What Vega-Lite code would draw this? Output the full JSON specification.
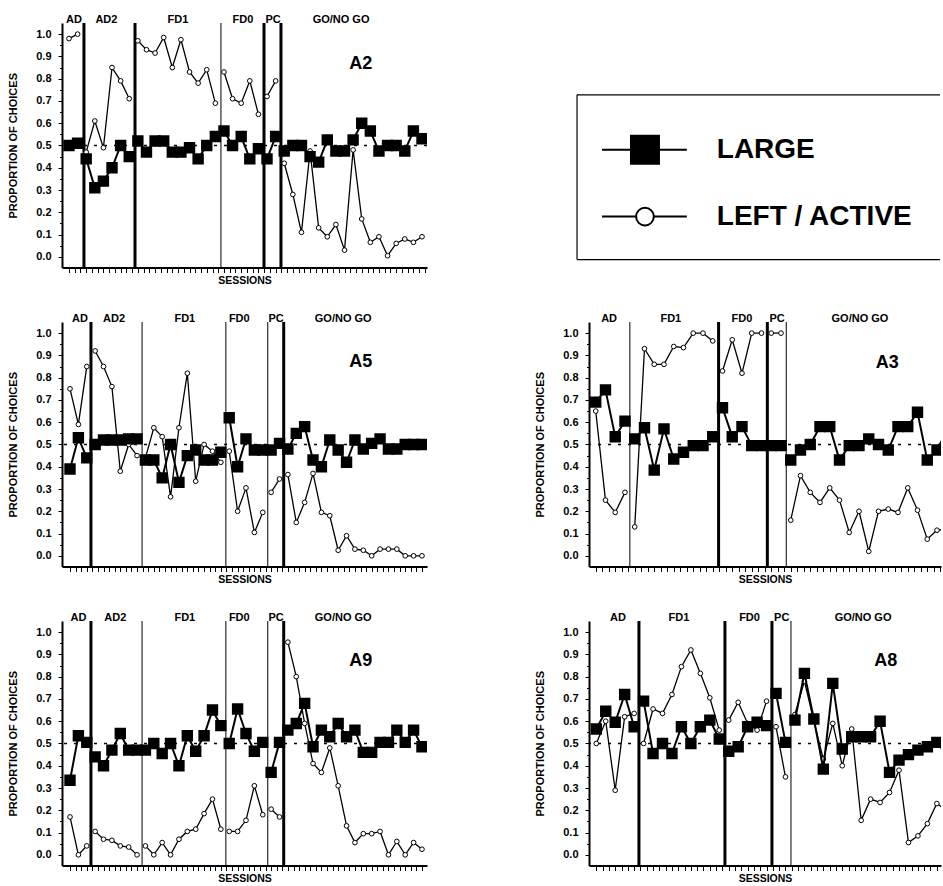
{
"$schema": "https://vega.github.io/schema/vega-lite/v6.json",
"background": "white",
"padding": {"left": 7, "top": 14, "right": 0, "bottom": 0},
"config": {
 "view": {"stroke": null},
 "axis": {"domainColor": "black", "domainWidth": 2, "tickColor": "black", "tickWidth": 1, "grid": false, "labelFont": "Liberation Sans", "labelFontWeight": "bold", "labelFontSize": 11, "labelColor": "black", "titleFont": "Liberation Sans", "titleFontWeight": "bold", "titleFontSize": 11, "titleColor": "black", "labelOverlap": false},
 "axisX": {"labels": false, "tickSize": 5, "titlePadding": 3, "titleFontSize": 10.5, "minExtent": 5, "maxExtent": 5},
 "axisY": {"labelPadding": 7, "titlePadding": 18, "minExtent": 26, "maxExtent": 26},
 "text": {"font": "Liberation Sans", "fontWeight": "bold", "color": "black"}
},
"datasets": {
 "sessions": [
  {"panel":"A2","phase":"AD","s":1,"large":0.50,"left":0.98},
  {"panel":"A2","phase":"AD","s":2,"large":0.51,"left":1.0},
  {"panel":"A2","phase":"AD2","s":3,"large":0.44,"left":0.47},
  {"panel":"A2","phase":"AD2","s":4,"large":0.31,"left":0.61},
  {"panel":"A2","phase":"AD2","s":5,"large":0.34,"left":0.49},
  {"panel":"A2","phase":"AD2","s":6,"large":0.40,"left":0.85},
  {"panel":"A2","phase":"AD2","s":7,"large":0.50,"left":0.79},
  {"panel":"A2","phase":"AD2","s":8,"large":0.45,"left":0.71},
  {"panel":"A2","phase":"FD1","s":9,"large":0.52,"left":0.97},
  {"panel":"A2","phase":"FD1","s":10,"large":0.47,"left":0.93},
  {"panel":"A2","phase":"FD1","s":11,"large":0.52,"left":0.915},
  {"panel":"A2","phase":"FD1","s":12,"large":0.52,"left":0.985},
  {"panel":"A2","phase":"FD1","s":13,"large":0.47,"left":0.85},
  {"panel":"A2","phase":"FD1","s":14,"large":0.47,"left":0.975},
  {"panel":"A2","phase":"FD1","s":15,"large":0.49,"left":0.83},
  {"panel":"A2","phase":"FD1","s":16,"large":0.44,"left":0.78},
  {"panel":"A2","phase":"FD1","s":17,"large":0.50,"left":0.84},
  {"panel":"A2","phase":"FD1","s":18,"large":0.54,"left":0.69},
  {"panel":"A2","phase":"FD0","s":19,"large":0.565,"left":0.83},
  {"panel":"A2","phase":"FD0","s":20,"large":0.50,"left":0.71},
  {"panel":"A2","phase":"FD0","s":21,"large":0.54,"left":0.69},
  {"panel":"A2","phase":"FD0","s":22,"large":0.44,"left":0.79},
  {"panel":"A2","phase":"FD0","s":23,"large":0.485,"left":0.64},
  {"panel":"A2","phase":"PC","s":24,"large":0.44,"left":0.72},
  {"panel":"A2","phase":"PC","s":25,"large":0.54,"left":0.79},
  {"panel":"A2","phase":"GO/NO GO","s":26,"large":0.475,"left":0.42},
  {"panel":"A2","phase":"GO/NO GO","s":27,"large":0.50,"left":0.28},
  {"panel":"A2","phase":"GO/NO GO","s":28,"large":0.50,"left":0.11},
  {"panel":"A2","phase":"GO/NO GO","s":29,"large":0.45,"left":0.475},
  {"panel":"A2","phase":"GO/NO GO","s":30,"large":0.425,"left":0.13},
  {"panel":"A2","phase":"GO/NO GO","s":31,"large":0.525,"left":0.09},
  {"panel":"A2","phase":"GO/NO GO","s":32,"large":0.475,"left":0.145},
  {"panel":"A2","phase":"GO/NO GO","s":33,"large":0.475,"left":0.03},
  {"panel":"A2","phase":"GO/NO GO","s":34,"large":0.525,"left":0.48},
  {"panel":"A2","phase":"GO/NO GO","s":35,"large":0.60,"left":0.17},
  {"panel":"A2","phase":"GO/NO GO","s":36,"large":0.565,"left":0.065},
  {"panel":"A2","phase":"GO/NO GO","s":37,"large":0.475,"left":0.09},
  {"panel":"A2","phase":"GO/NO GO","s":38,"large":0.50,"left":0.005},
  {"panel":"A2","phase":"GO/NO GO","s":39,"large":0.50,"left":0.06},
  {"panel":"A2","phase":"GO/NO GO","s":40,"large":0.475,"left":0.08},
  {"panel":"A2","phase":"GO/NO GO","s":41,"large":0.565,"left":0.065},
  {"panel":"A2","phase":"GO/NO GO","s":42,"large":0.53,"left":0.09},

  {"panel":"A5","phase":"AD","s":1,"large":0.39,"left":0.75},
  {"panel":"A5","phase":"AD","s":2,"large":0.53,"left":0.59},
  {"panel":"A5","phase":"AD","s":3,"large":0.44,"left":0.85},
  {"panel":"A5","phase":"AD2","s":4,"large":0.50,"left":0.92},
  {"panel":"A5","phase":"AD2","s":5,"large":0.52,"left":0.85},
  {"panel":"A5","phase":"AD2","s":6,"large":0.52,"left":0.76},
  {"panel":"A5","phase":"AD2","s":7,"large":0.52,"left":0.38},
  {"panel":"A5","phase":"AD2","s":8,"large":0.525,"left":0.50},
  {"panel":"A5","phase":"AD2","s":9,"large":0.525,"left":0.45},
  {"panel":"A5","phase":"FD1","s":10,"large":0.43,"left":0.44},
  {"panel":"A5","phase":"FD1","s":11,"large":0.43,"left":0.575},
  {"panel":"A5","phase":"FD1","s":12,"large":0.35,"left":0.535},
  {"panel":"A5","phase":"FD1","s":13,"large":0.50,"left":0.265},
  {"panel":"A5","phase":"FD1","s":14,"large":0.33,"left":0.575},
  {"panel":"A5","phase":"FD1","s":15,"large":0.45,"left":0.82},
  {"panel":"A5","phase":"FD1","s":16,"large":0.475,"left":0.335},
  {"panel":"A5","phase":"FD1","s":17,"large":0.43,"left":0.50},
  {"panel":"A5","phase":"FD1","s":18,"large":0.43,"left":0.47},
  {"panel":"A5","phase":"FD1","s":19,"large":0.465,"left":0.42},
  {"panel":"A5","phase":"FD0","s":20,"large":0.62,"left":0.47},
  {"panel":"A5","phase":"FD0","s":21,"large":0.40,"left":0.20},
  {"panel":"A5","phase":"FD0","s":22,"large":0.525,"left":0.305},
  {"panel":"A5","phase":"FD0","s":23,"large":0.475,"left":0.105},
  {"panel":"A5","phase":"FD0","s":24,"large":0.475,"left":0.195},
  {"panel":"A5","phase":"PC","s":25,"large":0.475,"left":0.285},
  {"panel":"A5","phase":"PC","s":26,"large":0.505,"left":0.345},
  {"panel":"A5","phase":"GO/NO GO","s":27,"large":0.48,"left":0.365},
  {"panel":"A5","phase":"GO/NO GO","s":28,"large":0.55,"left":0.15},
  {"panel":"A5","phase":"GO/NO GO","s":29,"large":0.58,"left":0.24},
  {"panel":"A5","phase":"GO/NO GO","s":30,"large":0.43,"left":0.37},
  {"panel":"A5","phase":"GO/NO GO","s":31,"large":0.40,"left":0.195},
  {"panel":"A5","phase":"GO/NO GO","s":32,"large":0.52,"left":0.18},
  {"panel":"A5","phase":"GO/NO GO","s":33,"large":0.475,"left":0.025},
  {"panel":"A5","phase":"GO/NO GO","s":34,"large":0.42,"left":0.09},
  {"panel":"A5","phase":"GO/NO GO","s":35,"large":0.52,"left":0.03},
  {"panel":"A5","phase":"GO/NO GO","s":36,"large":0.48,"left":0.025},
  {"panel":"A5","phase":"GO/NO GO","s":37,"large":0.505,"left":0.0},
  {"panel":"A5","phase":"GO/NO GO","s":38,"large":0.525,"left":0.03},
  {"panel":"A5","phase":"GO/NO GO","s":39,"large":0.48,"left":0.03},
  {"panel":"A5","phase":"GO/NO GO","s":40,"large":0.48,"left":0.03},
  {"panel":"A5","phase":"GO/NO GO","s":41,"large":0.50,"left":0.0},
  {"panel":"A5","phase":"GO/NO GO","s":42,"large":0.50,"left":0.0},
  {"panel":"A5","phase":"GO/NO GO","s":43,"large":0.50,"left":0.0},

  {"panel":"A9","phase":"AD","s":1,"large":0.335,"left":0.17},
  {"panel":"A9","phase":"AD","s":2,"large":0.535,"left":0.0},
  {"panel":"A9","phase":"AD","s":3,"large":0.505,"left":0.04},
  {"panel":"A9","phase":"AD2","s":4,"large":0.44,"left":0.105},
  {"panel":"A9","phase":"AD2","s":5,"large":0.40,"left":0.07},
  {"panel":"A9","phase":"AD2","s":6,"large":0.47,"left":0.065},
  {"panel":"A9","phase":"AD2","s":7,"large":0.545,"left":0.04},
  {"panel":"A9","phase":"AD2","s":8,"large":0.47,"left":0.035},
  {"panel":"A9","phase":"AD2","s":9,"large":0.47,"left":0.0},
  {"panel":"A9","phase":"FD1","s":10,"large":0.47,"left":0.04},
  {"panel":"A9","phase":"FD1","s":11,"large":0.50,"left":0.0},
  {"panel":"A9","phase":"FD1","s":12,"large":0.455,"left":0.055},
  {"panel":"A9","phase":"FD1","s":13,"large":0.50,"left":0.0},
  {"panel":"A9","phase":"FD1","s":14,"large":0.40,"left":0.07},
  {"panel":"A9","phase":"FD1","s":15,"large":0.535,"left":0.105},
  {"panel":"A9","phase":"FD1","s":16,"large":0.465,"left":0.115},
  {"panel":"A9","phase":"FD1","s":17,"large":0.535,"left":0.185},
  {"panel":"A9","phase":"FD1","s":18,"large":0.65,"left":0.25},
  {"panel":"A9","phase":"FD1","s":19,"large":0.58,"left":0.115},
  {"panel":"A9","phase":"FD0","s":20,"large":0.50,"left":0.105},
  {"panel":"A9","phase":"FD0","s":21,"large":0.655,"left":0.105},
  {"panel":"A9","phase":"FD0","s":22,"large":0.545,"left":0.155},
  {"panel":"A9","phase":"FD0","s":23,"large":0.465,"left":0.31},
  {"panel":"A9","phase":"FD0","s":24,"large":0.505,"left":0.18},
  {"panel":"A9","phase":"PC","s":25,"large":0.37,"left":0.205},
  {"panel":"A9","phase":"PC","s":26,"large":0.505,"left":0.17},
  {"panel":"A9","phase":"GO/NO GO","s":27,"large":0.56,"left":0.955},
  {"panel":"A9","phase":"GO/NO GO","s":28,"large":0.59,"left":0.80},
  {"panel":"A9","phase":"GO/NO GO","s":29,"large":0.68,"left":0.59},
  {"panel":"A9","phase":"GO/NO GO","s":30,"large":0.485,"left":0.41},
  {"panel":"A9","phase":"GO/NO GO","s":31,"large":0.56,"left":0.37},
  {"panel":"A9","phase":"GO/NO GO","s":32,"large":0.53,"left":0.48},
  {"panel":"A9","phase":"GO/NO GO","s":33,"large":0.59,"left":0.31},
  {"panel":"A9","phase":"GO/NO GO","s":34,"large":0.53,"left":0.13},
  {"panel":"A9","phase":"GO/NO GO","s":35,"large":0.56,"left":0.055},
  {"panel":"A9","phase":"GO/NO GO","s":36,"large":0.46,"left":0.095},
  {"panel":"A9","phase":"GO/NO GO","s":37,"large":0.46,"left":0.095},
  {"panel":"A9","phase":"GO/NO GO","s":38,"large":0.505,"left":0.105},
  {"panel":"A9","phase":"GO/NO GO","s":39,"large":0.505,"left":0.0},
  {"panel":"A9","phase":"GO/NO GO","s":40,"large":0.56,"left":0.06},
  {"panel":"A9","phase":"GO/NO GO","s":41,"large":0.505,"left":0.0},
  {"panel":"A9","phase":"GO/NO GO","s":42,"large":0.56,"left":0.055},
  {"panel":"A9","phase":"GO/NO GO","s":43,"large":0.485,"left":0.025},

  {"panel":"A3","phase":"AD","s":1,"large":0.69,"left":0.65},
  {"panel":"A3","phase":"AD","s":2,"large":0.745,"left":0.25},
  {"panel":"A3","phase":"AD","s":3,"large":0.535,"left":0.195},
  {"panel":"A3","phase":"AD","s":4,"large":0.605,"left":0.285},
  {"panel":"A3","phase":"FD1","s":5,"large":0.525,"left":0.13},
  {"panel":"A3","phase":"FD1","s":6,"large":0.575,"left":0.93},
  {"panel":"A3","phase":"FD1","s":7,"large":0.385,"left":0.86},
  {"panel":"A3","phase":"FD1","s":8,"large":0.57,"left":0.86},
  {"panel":"A3","phase":"FD1","s":9,"large":0.435,"left":0.94},
  {"panel":"A3","phase":"FD1","s":10,"large":0.465,"left":0.935},
  {"panel":"A3","phase":"FD1","s":11,"large":0.495,"left":1.0},
  {"panel":"A3","phase":"FD1","s":12,"large":0.495,"left":1.0},
  {"panel":"A3","phase":"FD1","s":13,"large":0.535,"left":0.965},
  {"panel":"A3","phase":"FD0","s":14,"large":0.665,"left":0.83},
  {"panel":"A3","phase":"FD0","s":15,"large":0.535,"left":0.97},
  {"panel":"A3","phase":"FD0","s":16,"large":0.58,"left":0.82},
  {"panel":"A3","phase":"FD0","s":17,"large":0.495,"left":1.0},
  {"panel":"A3","phase":"FD0","s":18,"large":0.495,"left":1.0},
  {"panel":"A3","phase":"PC","s":19,"large":0.495,"left":1.0},
  {"panel":"A3","phase":"PC","s":20,"large":0.495,"left":1.0},
  {"panel":"A3","phase":"GO/NO GO","s":21,"large":0.43,"left":0.16},
  {"panel":"A3","phase":"GO/NO GO","s":22,"large":0.475,"left":0.36},
  {"panel":"A3","phase":"GO/NO GO","s":23,"large":0.50,"left":0.285},
  {"panel":"A3","phase":"GO/NO GO","s":24,"large":0.58,"left":0.24},
  {"panel":"A3","phase":"GO/NO GO","s":25,"large":0.58,"left":0.305},
  {"panel":"A3","phase":"GO/NO GO","s":26,"large":0.43,"left":0.25},
  {"panel":"A3","phase":"GO/NO GO","s":27,"large":0.495,"left":0.105},
  {"panel":"A3","phase":"GO/NO GO","s":28,"large":0.495,"left":0.20},
  {"panel":"A3","phase":"GO/NO GO","s":29,"large":0.525,"left":0.02},
  {"panel":"A3","phase":"GO/NO GO","s":30,"large":0.50,"left":0.20},
  {"panel":"A3","phase":"GO/NO GO","s":31,"large":0.475,"left":0.21},
  {"panel":"A3","phase":"GO/NO GO","s":32,"large":0.58,"left":0.195},
  {"panel":"A3","phase":"GO/NO GO","s":33,"large":0.58,"left":0.305},
  {"panel":"A3","phase":"GO/NO GO","s":34,"large":0.645,"left":0.205},
  {"panel":"A3","phase":"GO/NO GO","s":35,"large":0.43,"left":0.075},
  {"panel":"A3","phase":"GO/NO GO","s":36,"large":0.475,"left":0.115},
  {"panel":"A3","phase":"GO/NO GO","s":37,"large":0.56,"left":0.12},

  {"panel":"A8","phase":"AD","s":1,"large":0.565,"left":0.50},
  {"panel":"A8","phase":"AD","s":2,"large":0.645,"left":0.60},
  {"panel":"A8","phase":"AD","s":3,"large":0.595,"left":0.29},
  {"panel":"A8","phase":"AD","s":4,"large":0.72,"left":0.62},
  {"panel":"A8","phase":"AD","s":5,"large":0.575,"left":0.635},
  {"panel":"A8","phase":"FD1","s":6,"large":0.69,"left":0.50},
  {"panel":"A8","phase":"FD1","s":7,"large":0.455,"left":0.655},
  {"panel":"A8","phase":"FD1","s":8,"large":0.50,"left":0.635},
  {"panel":"A8","phase":"FD1","s":9,"large":0.455,"left":0.72},
  {"panel":"A8","phase":"FD1","s":10,"large":0.575,"left":0.845},
  {"panel":"A8","phase":"FD1","s":11,"large":0.50,"left":0.92},
  {"panel":"A8","phase":"FD1","s":12,"large":0.575,"left":0.815},
  {"panel":"A8","phase":"FD1","s":13,"large":0.605,"left":0.705},
  {"panel":"A8","phase":"FD1","s":14,"large":0.52,"left":0.56},
  {"panel":"A8","phase":"FD0","s":15,"large":0.465,"left":0.605},
  {"panel":"A8","phase":"FD0","s":16,"large":0.485,"left":0.685},
  {"panel":"A8","phase":"FD0","s":17,"large":0.575,"left":0.59},
  {"panel":"A8","phase":"FD0","s":18,"large":0.595,"left":0.56},
  {"panel":"A8","phase":"FD0","s":19,"large":0.58,"left":0.69},
  {"panel":"A8","phase":"PC","s":20,"large":0.725,"left":0.575},
  {"panel":"A8","phase":"PC","s":21,"large":0.505,"left":0.35},
  {"panel":"A8","phase":"GO/NO GO","s":22,"large":0.605,"left":0.63},
  {"panel":"A8","phase":"GO/NO GO","s":23,"large":0.815,"left":0.78},
  {"panel":"A8","phase":"GO/NO GO","s":24,"large":0.61,"left":0.60},
  {"panel":"A8","phase":"GO/NO GO","s":25,"large":0.385,"left":0.43},
  {"panel":"A8","phase":"GO/NO GO","s":26,"large":0.77,"left":0.59},
  {"panel":"A8","phase":"GO/NO GO","s":27,"large":0.475,"left":0.40},
  {"panel":"A8","phase":"GO/NO GO","s":28,"large":0.53,"left":0.565},
  {"panel":"A8","phase":"GO/NO GO","s":29,"large":0.53,"left":0.155},
  {"panel":"A8","phase":"GO/NO GO","s":30,"large":0.53,"left":0.25},
  {"panel":"A8","phase":"GO/NO GO","s":31,"large":0.60,"left":0.235},
  {"panel":"A8","phase":"GO/NO GO","s":32,"large":0.37,"left":0.28},
  {"panel":"A8","phase":"GO/NO GO","s":33,"large":0.425,"left":0.38},
  {"panel":"A8","phase":"GO/NO GO","s":34,"large":0.45,"left":0.055},
  {"panel":"A8","phase":"GO/NO GO","s":35,"large":0.47,"left":0.085},
  {"panel":"A8","phase":"GO/NO GO","s":36,"large":0.485,"left":0.14},
  {"panel":"A8","phase":"GO/NO GO","s":37,"large":0.505,"left":0.23},
  {"panel":"A8","phase":"GO/NO GO","s":38,"large":0.50,"left":0.20}
 ],
 "phases": [
  {"panel":"A2","phase":"AD","mid":1.58},{"panel":"A2","phase":"AD2","mid":5.35},{"panel":"A2","phase":"FD1","mid":13.66},{"panel":"A2","phase":"FD0","mid":21.2},{"panel":"A2","phase":"PC","mid":24.7},{"panel":"A2","phase":"GO/NO GO","mid":32.6},
  {"panel":"A5","phase":"AD","mid":2.2},{"panel":"A5","phase":"AD2","mid":6.25},{"panel":"A5","phase":"FD1","mid":14.7},{"panel":"A5","phase":"FD0","mid":21.2},{"panel":"A5","phase":"PC","mid":25.6},{"panel":"A5","phase":"GO/NO GO","mid":33.6},
  {"panel":"A9","phase":"AD","mid":2.0},{"panel":"A9","phase":"AD2","mid":6.4},{"panel":"A9","phase":"FD1","mid":14.7},{"panel":"A9","phase":"FD0","mid":21.2},{"panel":"A9","phase":"PC","mid":25.6},{"panel":"A9","phase":"GO/NO GO","mid":33.6},
  {"panel":"A3","phase":"AD","mid":2.37},{"panel":"A3","phase":"FD1","mid":8.7},{"panel":"A3","phase":"FD0","mid":16.0},{"panel":"A3","phase":"PC","mid":19.6},{"panel":"A3","phase":"GO/NO GO","mid":28.1},
  {"panel":"A8","phase":"AD","mid":3.3},{"panel":"A8","phase":"FD1","mid":9.73},{"panel":"A8","phase":"FD0","mid":17.2},{"panel":"A8","phase":"PC","mid":20.6},{"panel":"A8","phase":"GO/NO GO","mid":29.2}
 ],
 "bounds": [
  {"panel":"A2","at":2.74,"line":"heavy"},{"panel":"A2","at":8.67,"line":"heavy"},{"panel":"A2","at":18.65,"line":"light"},{"panel":"A2","at":23.65,"line":"heavy"},{"panel":"A2","at":25.62,"line":"heavy"},
  {"panel":"A5","at":3.5,"line":"heavy"},{"panel":"A5","at":9.6,"line":"light"},{"panel":"A5","at":19.6,"line":"light"},{"panel":"A5","at":24.6,"line":"light"},{"panel":"A5","at":26.5,"line":"heavy"},
  {"panel":"A9","at":3.5,"line":"heavy"},{"panel":"A9","at":9.6,"line":"light"},{"panel":"A9","at":19.6,"line":"light"},{"panel":"A9","at":24.6,"line":"light"},{"panel":"A9","at":26.5,"line":"heavy"},
  {"panel":"A3","at":4.5,"line":"light"},{"panel":"A3","at":13.6,"line":"heavy"},{"panel":"A3","at":18.6,"line":"heavy"},{"panel":"A3","at":20.54,"line":"light"},
  {"panel":"A8","at":5.51,"line":"heavy"},{"panel":"A8","at":14.6,"line":"heavy"},{"panel":"A8","at":19.57,"line":"heavy"},{"panel":"A8","at":21.58,"line":"light"}
 ],
 "legend": [
  {"label":"LARGE","series":"large","rank":1},
  {"label":"LEFT / ACTIVE","series":"left","rank":2}
 ]
},
"columns": 2,
"bounds": "flush",
"spacing": {"row": 54, "column": 162},
"concat": [
 {
  "width": 365, "height": 244.5,
  "layer": [
   {"data": {"name": "sessions"}, "transform": [{"filter": "datum.panel == 'A2'"}], "mark": {"type": "line", "color": "black", "strokeWidth": 1.3, "clip": true},
    "encoding": {
     "x": {"field": "s", "type": "quantitative", "scale": {"domain": [0.19, 42.58], "nice": false, "zero": false},
       "axis": {"title": "SESSIONS", "tickCount": 200, "values": [1,1.67,2.33,3,3.67,4.33,5,5.67,6.33,7,7.67,8.33,9,9.67,10.33,11,11.67,12.33,13,13.67,14.33,15,15.67,16.33,17,17.67,18.33,19,19.67,20.33,21,21.67,22.33,23,23.67,24.33,25,25.67,26.33,27,27.67,28.33,29,29.67,30.33,31,31.67,32.33,33,33.67,34.33,35,35.67,36.33,37,37.67,38.33,39,39.67,40.33,41,41.67,42.33]}},
     "y": {"field": "left", "type": "quantitative", "scale": {"domain": [-0.048, 1.05], "nice": false, "zero": false},
       "axis": {"title": "PROPORTION OF CHOICES", "tickCount": 200, "values": [0,0.05,0.1,0.15,0.2,0.25,0.3,0.35,0.4,0.45,0.5,0.55,0.6,0.65,0.7,0.75,0.8,0.85,0.9,0.95,1], "labelExpr": "round(datum.value*20) % 2 == 0 ? format(datum.value, '.1f') : ''", "tickSize": {"condition": {"test": "round(datum.value*20) % 2 == 0", "value": 4}, "value": 2.5}}},
     "detail": {"field": "phase"}}},
   {"data": {"values": [{}]}, "mark": {"type": "rule", "color": "black", "strokeWidth": 1.5, "strokeDash": [3, 7]},
    "encoding": {"y": {"datum": 0.5, "type": "quantitative", "scale": {"domain": [-0.048, 1.05], "nice": false, "zero": false}}}},
   {"data": {"name": "bounds"}, "transform": [{"filter": "datum.panel == 'A2'"}], "mark": {"type": "rule", "color": "black"},
    "encoding": {"x": {"field": "at", "type": "quantitative", "scale": {"domain": [0.19, 42.58], "nice": false, "zero": false}},
     "strokeWidth": {"field": "line", "type": "nominal", "scale": {"domain": ["heavy", "light"], "range": [3, 1]}, "legend": null}}},
   {"data": {"name": "sessions"}, "transform": [{"filter": "datum.panel == 'A2'"}], "mark": {"type": "point", "shape": "circle", "filled": true, "fill": "white", "stroke": "black", "strokeWidth": 1, "size": 22, "opacity": 1, "clip": true},
    "encoding": {"x": {"field": "s", "type": "quantitative", "scale": {"domain": [0.19, 42.58], "nice": false, "zero": false}},
     "y": {"field": "left", "type": "quantitative", "scale": {"domain": [-0.048, 1.05], "nice": false, "zero": false}}}},
   {"data": {"name": "sessions"}, "transform": [{"filter": "datum.panel == 'A2'"}], "mark": {"type": "line", "color": "black", "strokeWidth": 2, "clip": true},
    "encoding": {"x": {"field": "s", "type": "quantitative", "scale": {"domain": [0.19, 42.58], "nice": false, "zero": false}},
     "y": {"field": "large", "type": "quantitative", "scale": {"domain": [-0.048, 1.05], "nice": false, "zero": false}},
     "detail": {"field": "phase"}}},
   {"data": {"name": "sessions"}, "transform": [{"filter": "datum.panel == 'A2'"}], "mark": {"type": "square", "color": "black", "size": 130, "opacity": 1, "clip": true},
    "encoding": {"x": {"field": "s", "type": "quantitative", "scale": {"domain": [0.19, 42.58], "nice": false, "zero": false}},
     "y": {"field": "large", "type": "quantitative", "scale": {"domain": [-0.048, 1.05], "nice": false, "zero": false}}}},
   {"data": {"name": "phases"}, "transform": [{"filter": "datum.panel == 'A2'"}], "mark": {"type": "text", "fontSize": 11, "baseline": "alphabetic", "align": "center"},
    "encoding": {"x": {"field": "mid", "type": "quantitative", "scale": {"domain": [0.19, 42.58], "nice": false, "zero": false}},
     "y": {"datum": 1.05, "type": "quantitative", "scale": {"domain": [-0.048, 1.05], "nice": false, "zero": false}},
     "text": {"field": "phase"}}},
   {"data": {"values": [{}]}, "mark": {"type": "text", "text": "A2", "fontSize": 18, "baseline": "middle", "align": "center"},
    "encoding": {"x": {"datum": 34.9, "type": "quantitative", "scale": {"domain": [0.19, 42.58], "nice": false, "zero": false}},
     "y": {"datum": 0.864, "type": "quantitative", "scale": {"domain": [-0.048, 1.05], "nice": false, "zero": false}}}}
  ]
 },
 {
  "width": 352, "height": 244.5,
  "layer": [
   {"data": {"values": [{}]}, "mark": {"type": "rule", "color": "black", "strokeWidth": 1.2},
    "encoding": {"x": {"datum": -0.034, "type": "quantitative", "scale": {"domain": [0, 1], "nice": false, "zero": false}, "axis": null}, "x2": {"datum": 0.997},
     "y": {"datum": 0.179, "type": "quantitative", "scale": {"domain": [-0.896, 2.761], "nice": false, "zero": false, "reverse": true}, "axis": null}}},
   {"data": {"values": [{}]}, "mark": {"type": "rule", "color": "black", "strokeWidth": 1.2},
    "encoding": {"x": {"datum": -0.034, "type": "quantitative", "scale": {"domain": [0, 1], "nice": false, "zero": false}, "axis": null}, "x2": {"datum": 0.997},
     "y": {"datum": 2.642, "type": "quantitative", "scale": {"domain": [-0.896, 2.761], "nice": false, "zero": false, "reverse": true}, "axis": null}}},
   {"data": {"values": [{}]}, "mark": {"type": "rule", "color": "black", "strokeWidth": 1.2},
    "encoding": {"x": {"datum": -0.034, "type": "quantitative", "scale": {"domain": [0, 1], "nice": false, "zero": false}, "axis": null},
     "y": {"datum": 0.179, "type": "quantitative", "scale": {"domain": [-0.896, 2.761], "nice": false, "zero": false, "reverse": true}, "axis": null}, "y2": {"datum": 2.642}}},
   {"data": {"name": "legend"}, "mark": {"type": "rule", "color": "black", "strokeWidth": 2},
    "encoding": {"x": {"datum": 0.037, "type": "quantitative", "scale": {"domain": [0, 1], "nice": false, "zero": false}, "axis": null}, "x2": {"datum": 0.278},
     "y": {"field": "rank", "type": "quantitative", "scale": {"domain": [-0.896, 2.761], "nice": false, "zero": false, "reverse": true}, "axis": null}}},
   {"data": {"name": "legend"}, "transform": [{"filter": "datum.series == 'large'"}], "mark": {"type": "square", "color": "black", "size": 900, "opacity": 1},
    "encoding": {"x": {"datum": 0.159, "type": "quantitative", "scale": {"domain": [0, 1], "nice": false, "zero": false}, "axis": null},
     "y": {"field": "rank", "type": "quantitative", "scale": {"domain": [-0.896, 2.761], "nice": false, "zero": false, "reverse": true}, "axis": null}}},
   {"data": {"name": "legend"}, "transform": [{"filter": "datum.series == 'left'"}], "mark": {"type": "point", "shape": "circle", "filled": true, "fill": "white", "stroke": "black", "strokeWidth": 2, "size": 314, "opacity": 1},
    "encoding": {"x": {"datum": 0.159, "type": "quantitative", "scale": {"domain": [0, 1], "nice": false, "zero": false}, "axis": null},
     "y": {"field": "rank", "type": "quantitative", "scale": {"domain": [-0.896, 2.761], "nice": false, "zero": false, "reverse": true}, "axis": null}}},
   {"data": {"name": "legend"}, "mark": {"type": "text", "fontSize": 28, "align": "left", "baseline": "middle"},
    "encoding": {"x": {"datum": 0.363, "type": "quantitative", "scale": {"domain": [0, 1], "nice": false, "zero": false}, "axis": null},
     "y": {"field": "rank", "type": "quantitative", "scale": {"domain": [-0.896, 2.761], "nice": false, "zero": false, "reverse": true}, "axis": null},
     "text": {"field": "label"}}}
  ]
 },
 {
  "width": 365, "height": 244.5,
  "layer": [
   {"data": {"name": "sessions"}, "transform": [{"filter": "datum.panel == 'A5'"}], "mark": {"type": "line", "color": "black", "strokeWidth": 1.3, "clip": true},
    "encoding": {
     "x": {"field": "s", "type": "quantitative", "scale": {"domain": [0.045, 43.6], "nice": false, "zero": false},
       "axis": {"title": "SESSIONS", "tickCount": 200, "values": [1,1.67,2.33,3,3.67,4.33,5,5.67,6.33,7,7.67,8.33,9,9.67,10.33,11,11.67,12.33,13,13.67,14.33,15,15.67,16.33,17,17.67,18.33,19,19.67,20.33,21,21.67,22.33,23,23.67,24.33,25,25.67,26.33,27,27.67,28.33,29,29.67,30.33,31,31.67,32.33,33,33.67,34.33,35,35.67,36.33,37,37.67,38.33,39,39.67,40.33,41,41.67,42.33,43]}},
     "y": {"field": "left", "type": "quantitative", "scale": {"domain": [-0.048, 1.05], "nice": false, "zero": false},
       "axis": {"title": "PROPORTION OF CHOICES", "tickCount": 200, "values": [0,0.05,0.1,0.15,0.2,0.25,0.3,0.35,0.4,0.45,0.5,0.55,0.6,0.65,0.7,0.75,0.8,0.85,0.9,0.95,1], "labelExpr": "round(datum.value*20) % 2 == 0 ? format(datum.value, '.1f') : ''", "tickSize": {"condition": {"test": "round(datum.value*20) % 2 == 0", "value": 4}, "value": 2.5}}},
     "detail": {"field": "phase"}}},
   {"data": {"values": [{}]}, "mark": {"type": "rule", "color": "black", "strokeWidth": 1.5, "strokeDash": [3, 7]},
    "encoding": {"y": {"datum": 0.5, "type": "quantitative", "scale": {"domain": [-0.048, 1.05], "nice": false, "zero": false}}}},
   {"data": {"name": "bounds"}, "transform": [{"filter": "datum.panel == 'A5'"}], "mark": {"type": "rule", "color": "black"},
    "encoding": {"x": {"field": "at", "type": "quantitative", "scale": {"domain": [0.045, 43.6], "nice": false, "zero": false}},
     "strokeWidth": {"field": "line", "type": "nominal", "scale": {"domain": ["heavy", "light"], "range": [3, 1]}, "legend": null}}},
   {"data": {"name": "sessions"}, "transform": [{"filter": "datum.panel == 'A5'"}], "mark": {"type": "point", "shape": "circle", "filled": true, "fill": "white", "stroke": "black", "strokeWidth": 1, "size": 22, "opacity": 1, "clip": true},
    "encoding": {"x": {"field": "s", "type": "quantitative", "scale": {"domain": [0.045, 43.6], "nice": false, "zero": false}},
     "y": {"field": "left", "type": "quantitative", "scale": {"domain": [-0.048, 1.05], "nice": false, "zero": false}}}},
   {"data": {"name": "sessions"}, "transform": [{"filter": "datum.panel == 'A5'"}], "mark": {"type": "line", "color": "black", "strokeWidth": 2, "clip": true},
    "encoding": {"x": {"field": "s", "type": "quantitative", "scale": {"domain": [0.045, 43.6], "nice": false, "zero": false}},
     "y": {"field": "large", "type": "quantitative", "scale": {"domain": [-0.048, 1.05], "nice": false, "zero": false}},
     "detail": {"field": "phase"}}},
   {"data": {"name": "sessions"}, "transform": [{"filter": "datum.panel == 'A5'"}], "mark": {"type": "square", "color": "black", "size": 130, "opacity": 1, "clip": true},
    "encoding": {"x": {"field": "s", "type": "quantitative", "scale": {"domain": [0.045, 43.6], "nice": false, "zero": false}},
     "y": {"field": "large", "type": "quantitative", "scale": {"domain": [-0.048, 1.05], "nice": false, "zero": false}}}},
   {"data": {"name": "phases"}, "transform": [{"filter": "datum.panel == 'A5'"}], "mark": {"type": "text", "fontSize": 11, "baseline": "alphabetic", "align": "center"},
    "encoding": {"x": {"field": "mid", "type": "quantitative", "scale": {"domain": [0.045, 43.6], "nice": false, "zero": false}},
     "y": {"datum": 1.05, "type": "quantitative", "scale": {"domain": [-0.048, 1.05], "nice": false, "zero": false}},
     "text": {"field": "phase"}}},
   {"data": {"values": [{}]}, "mark": {"type": "text", "text": "A5", "fontSize": 18, "baseline": "middle", "align": "center"},
    "encoding": {"x": {"datum": 35.7, "type": "quantitative", "scale": {"domain": [0.045, 43.6], "nice": false, "zero": false}},
     "y": {"datum": 0.87, "type": "quantitative", "scale": {"domain": [-0.048, 1.05], "nice": false, "zero": false}}}}
  ]
 },
 {
  "width": 352, "height": 244.5,
  "layer": [
   {"data": {"name": "sessions"}, "transform": [{"filter": "datum.panel == 'A3'"}], "mark": {"type": "line", "color": "black", "strokeWidth": 1.3, "clip": true},
    "encoding": {
     "x": {"field": "s", "type": "quantitative", "scale": {"domain": [0.31, 36.41], "nice": false, "zero": false},
       "axis": {"title": "SESSIONS", "tickCount": 200, "values": [1,1.67,2.33,3,3.67,4.33,5,5.67,6.33,7,7.67,8.33,9,9.67,10.33,11,11.67,12.33,13,13.67,14.33,15,15.67,16.33,17,17.67,18.33,19,19.67,20.33,21,21.67,22.33,23,23.67,24.33,25,25.67,26.33,27,27.67,28.33,29,29.67,30.33,31,31.67,32.33,33,33.67,34.33,35,35.67,36.33]}},
     "y": {"field": "left", "type": "quantitative", "scale": {"domain": [-0.048, 1.05], "nice": false, "zero": false},
       "axis": {"title": "PROPORTION OF CHOICES", "tickCount": 200, "values": [0,0.05,0.1,0.15,0.2,0.25,0.3,0.35,0.4,0.45,0.5,0.55,0.6,0.65,0.7,0.75,0.8,0.85,0.9,0.95,1], "labelExpr": "round(datum.value*20) % 2 == 0 ? format(datum.value, '.1f') : ''", "tickSize": {"condition": {"test": "round(datum.value*20) % 2 == 0", "value": 4}, "value": 2.5}}},
     "detail": {"field": "phase"}}},
   {"data": {"values": [{}]}, "mark": {"type": "rule", "color": "black", "strokeWidth": 1.5, "strokeDash": [3, 7]},
    "encoding": {"y": {"datum": 0.5, "type": "quantitative", "scale": {"domain": [-0.048, 1.05], "nice": false, "zero": false}}}},
   {"data": {"name": "bounds"}, "transform": [{"filter": "datum.panel == 'A3'"}], "mark": {"type": "rule", "color": "black"},
    "encoding": {"x": {"field": "at", "type": "quantitative", "scale": {"domain": [0.31, 36.41], "nice": false, "zero": false}},
     "strokeWidth": {"field": "line", "type": "nominal", "scale": {"domain": ["heavy", "light"], "range": [3, 1]}, "legend": null}}},
   {"data": {"name": "sessions"}, "transform": [{"filter": "datum.panel == 'A3'"}], "mark": {"type": "point", "shape": "circle", "filled": true, "fill": "white", "stroke": "black", "strokeWidth": 1, "size": 22, "opacity": 1, "clip": true},
    "encoding": {"x": {"field": "s", "type": "quantitative", "scale": {"domain": [0.31, 36.41], "nice": false, "zero": false}},
     "y": {"field": "left", "type": "quantitative", "scale": {"domain": [-0.048, 1.05], "nice": false, "zero": false}}}},
   {"data": {"name": "sessions"}, "transform": [{"filter": "datum.panel == 'A3'"}], "mark": {"type": "line", "color": "black", "strokeWidth": 2, "clip": true},
    "encoding": {"x": {"field": "s", "type": "quantitative", "scale": {"domain": [0.31, 36.41], "nice": false, "zero": false}},
     "y": {"field": "large", "type": "quantitative", "scale": {"domain": [-0.048, 1.05], "nice": false, "zero": false}},
     "detail": {"field": "phase"}}},
   {"data": {"name": "sessions"}, "transform": [{"filter": "datum.panel == 'A3'"}], "mark": {"type": "square", "color": "black", "size": 130, "opacity": 1, "clip": true},
    "encoding": {"x": {"field": "s", "type": "quantitative", "scale": {"domain": [0.31, 36.41], "nice": false, "zero": false}},
     "y": {"field": "large", "type": "quantitative", "scale": {"domain": [-0.048, 1.05], "nice": false, "zero": false}}}},
   {"data": {"name": "phases"}, "transform": [{"filter": "datum.panel == 'A3'"}], "mark": {"type": "text", "fontSize": 11, "baseline": "alphabetic", "align": "center"},
    "encoding": {"x": {"field": "mid", "type": "quantitative", "scale": {"domain": [0.31, 36.41], "nice": false, "zero": false}},
     "y": {"datum": 1.05, "type": "quantitative", "scale": {"domain": [-0.048, 1.05], "nice": false, "zero": false}},
     "text": {"field": "phase"}}},
   {"data": {"values": [{}]}, "mark": {"type": "text", "text": "A3", "fontSize": 18, "baseline": "middle", "align": "center"},
    "encoding": {"x": {"datum": 30.9, "type": "quantitative", "scale": {"domain": [0.31, 36.41], "nice": false, "zero": false}},
     "y": {"datum": 0.868, "type": "quantitative", "scale": {"domain": [-0.048, 1.05], "nice": false, "zero": false}}}}
  ]
 },
 {
  "width": 365, "height": 244.5,
  "layer": [
   {"data": {"name": "sessions"}, "transform": [{"filter": "datum.panel == 'A9'"}], "mark": {"type": "line", "color": "black", "strokeWidth": 1.3, "clip": true},
    "encoding": {
     "x": {"field": "s", "type": "quantitative", "scale": {"domain": [0.045, 43.6], "nice": false, "zero": false},
       "axis": {"title": "SESSIONS", "tickCount": 200, "values": [1,1.67,2.33,3,3.67,4.33,5,5.67,6.33,7,7.67,8.33,9,9.67,10.33,11,11.67,12.33,13,13.67,14.33,15,15.67,16.33,17,17.67,18.33,19,19.67,20.33,21,21.67,22.33,23,23.67,24.33,25,25.67,26.33,27,27.67,28.33,29,29.67,30.33,31,31.67,32.33,33,33.67,34.33,35,35.67,36.33,37,37.67,38.33,39,39.67,40.33,41,41.67,42.33,43]}},
     "y": {"field": "left", "type": "quantitative", "scale": {"domain": [-0.048, 1.05], "nice": false, "zero": false},
       "axis": {"title": "PROPORTION OF CHOICES", "tickCount": 200, "values": [0,0.05,0.1,0.15,0.2,0.25,0.3,0.35,0.4,0.45,0.5,0.55,0.6,0.65,0.7,0.75,0.8,0.85,0.9,0.95,1], "labelExpr": "round(datum.value*20) % 2 == 0 ? format(datum.value, '.1f') : ''", "tickSize": {"condition": {"test": "round(datum.value*20) % 2 == 0", "value": 4}, "value": 2.5}}},
     "detail": {"field": "phase"}}},
   {"data": {"values": [{}]}, "mark": {"type": "rule", "color": "black", "strokeWidth": 1.5, "strokeDash": [3, 7]},
    "encoding": {"y": {"datum": 0.5, "type": "quantitative", "scale": {"domain": [-0.048, 1.05], "nice": false, "zero": false}}}},
   {"data": {"name": "bounds"}, "transform": [{"filter": "datum.panel == 'A9'"}], "mark": {"type": "rule", "color": "black"},
    "encoding": {"x": {"field": "at", "type": "quantitative", "scale": {"domain": [0.045, 43.6], "nice": false, "zero": false}},
     "strokeWidth": {"field": "line", "type": "nominal", "scale": {"domain": ["heavy", "light"], "range": [3, 1]}, "legend": null}}},
   {"data": {"name": "sessions"}, "transform": [{"filter": "datum.panel == 'A9'"}], "mark": {"type": "point", "shape": "circle", "filled": true, "fill": "white", "stroke": "black", "strokeWidth": 1, "size": 22, "opacity": 1, "clip": true},
    "encoding": {"x": {"field": "s", "type": "quantitative", "scale": {"domain": [0.045, 43.6], "nice": false, "zero": false}},
     "y": {"field": "left", "type": "quantitative", "scale": {"domain": [-0.048, 1.05], "nice": false, "zero": false}}}},
   {"data": {"name": "sessions"}, "transform": [{"filter": "datum.panel == 'A9'"}], "mark": {"type": "line", "color": "black", "strokeWidth": 2, "clip": true},
    "encoding": {"x": {"field": "s", "type": "quantitative", "scale": {"domain": [0.045, 43.6], "nice": false, "zero": false}},
     "y": {"field": "large", "type": "quantitative", "scale": {"domain": [-0.048, 1.05], "nice": false, "zero": false}},
     "detail": {"field": "phase"}}},
   {"data": {"name": "sessions"}, "transform": [{"filter": "datum.panel == 'A9'"}], "mark": {"type": "square", "color": "black", "size": 130, "opacity": 1, "clip": true},
    "encoding": {"x": {"field": "s", "type": "quantitative", "scale": {"domain": [0.045, 43.6], "nice": false, "zero": false}},
     "y": {"field": "large", "type": "quantitative", "scale": {"domain": [-0.048, 1.05], "nice": false, "zero": false}}}},
   {"data": {"name": "phases"}, "transform": [{"filter": "datum.panel == 'A9'"}], "mark": {"type": "text", "fontSize": 11, "baseline": "alphabetic", "align": "center"},
    "encoding": {"x": {"field": "mid", "type": "quantitative", "scale": {"domain": [0.045, 43.6], "nice": false, "zero": false}},
     "y": {"datum": 1.05, "type": "quantitative", "scale": {"domain": [-0.048, 1.05], "nice": false, "zero": false}},
     "text": {"field": "phase"}}},
   {"data": {"values": [{}]}, "mark": {"type": "text", "text": "A9", "fontSize": 18, "baseline": "middle", "align": "center"},
    "encoding": {"x": {"datum": 35.7, "type": "quantitative", "scale": {"domain": [0.045, 43.6], "nice": false, "zero": false}},
     "y": {"datum": 0.871, "type": "quantitative", "scale": {"domain": [-0.048, 1.05], "nice": false, "zero": false}}}}
  ]
 },
 {
  "width": 352, "height": 244.5,
  "layer": [
   {"data": {"name": "sessions"}, "transform": [{"filter": "datum.panel == 'A8'"}], "mark": {"type": "line", "color": "black", "strokeWidth": 1.3, "clip": true},
    "encoding": {
     "x": {"field": "s", "type": "quantitative", "scale": {"domain": [0.23, 37.44], "nice": false, "zero": false},
       "axis": {"title": "SESSIONS", "tickCount": 200, "values": [1,1.67,2.33,3,3.67,4.33,5,5.67,6.33,7,7.67,8.33,9,9.67,10.33,11,11.67,12.33,13,13.67,14.33,15,15.67,16.33,17,17.67,18.33,19,19.67,20.33,21,21.67,22.33,23,23.67,24.33,25,25.67,26.33,27,27.67,28.33,29,29.67,30.33,31,31.67,32.33,33,33.67,34.33,35,35.67,36.33,37]}},
     "y": {"field": "left", "type": "quantitative", "scale": {"domain": [-0.048, 1.05], "nice": false, "zero": false},
       "axis": {"title": "PROPORTION OF CHOICES", "tickCount": 200, "values": [0,0.05,0.1,0.15,0.2,0.25,0.3,0.35,0.4,0.45,0.5,0.55,0.6,0.65,0.7,0.75,0.8,0.85,0.9,0.95,1], "labelExpr": "round(datum.value*20) % 2 == 0 ? format(datum.value, '.1f') : ''", "tickSize": {"condition": {"test": "round(datum.value*20) % 2 == 0", "value": 4}, "value": 2.5}}},
     "detail": {"field": "phase"}}},
   {"data": {"values": [{}]}, "mark": {"type": "rule", "color": "black", "strokeWidth": 1.5, "strokeDash": [3, 7]},
    "encoding": {"y": {"datum": 0.5, "type": "quantitative", "scale": {"domain": [-0.048, 1.05], "nice": false, "zero": false}}}},
   {"data": {"name": "bounds"}, "transform": [{"filter": "datum.panel == 'A8'"}], "mark": {"type": "rule", "color": "black"},
    "encoding": {"x": {"field": "at", "type": "quantitative", "scale": {"domain": [0.23, 37.44], "nice": false, "zero": false}},
     "strokeWidth": {"field": "line", "type": "nominal", "scale": {"domain": ["heavy", "light"], "range": [3, 1]}, "legend": null}}},
   {"data": {"name": "sessions"}, "transform": [{"filter": "datum.panel == 'A8'"}], "mark": {"type": "point", "shape": "circle", "filled": true, "fill": "white", "stroke": "black", "strokeWidth": 1, "size": 22, "opacity": 1, "clip": true},
    "encoding": {"x": {"field": "s", "type": "quantitative", "scale": {"domain": [0.23, 37.44], "nice": false, "zero": false}},
     "y": {"field": "left", "type": "quantitative", "scale": {"domain": [-0.048, 1.05], "nice": false, "zero": false}}}},
   {"data": {"name": "sessions"}, "transform": [{"filter": "datum.panel == 'A8'"}], "mark": {"type": "line", "color": "black", "strokeWidth": 2, "clip": true},
    "encoding": {"x": {"field": "s", "type": "quantitative", "scale": {"domain": [0.23, 37.44], "nice": false, "zero": false}},
     "y": {"field": "large", "type": "quantitative", "scale": {"domain": [-0.048, 1.05], "nice": false, "zero": false}},
     "detail": {"field": "phase"}}},
   {"data": {"name": "sessions"}, "transform": [{"filter": "datum.panel == 'A8'"}], "mark": {"type": "square", "color": "black", "size": 130, "opacity": 1, "clip": true},
    "encoding": {"x": {"field": "s", "type": "quantitative", "scale": {"domain": [0.23, 37.44], "nice": false, "zero": false}},
     "y": {"field": "large", "type": "quantitative", "scale": {"domain": [-0.048, 1.05], "nice": false, "zero": false}}}},
   {"data": {"name": "phases"}, "transform": [{"filter": "datum.panel == 'A8'"}], "mark": {"type": "text", "fontSize": 11, "baseline": "alphabetic", "align": "center"},
    "encoding": {"x": {"field": "mid", "type": "quantitative", "scale": {"domain": [0.23, 37.44], "nice": false, "zero": false}},
     "y": {"datum": 1.05, "type": "quantitative", "scale": {"domain": [-0.048, 1.05], "nice": false, "zero": false}},
     "text": {"field": "phase"}}},
   {"data": {"values": [{}]}, "mark": {"type": "text", "text": "A8", "fontSize": 18, "baseline": "middle", "align": "center"},
    "encoding": {"x": {"datum": 31.6, "type": "quantitative", "scale": {"domain": [0.23, 37.44], "nice": false, "zero": false}},
     "y": {"datum": 0.871, "type": "quantitative", "scale": {"domain": [-0.048, 1.05], "nice": false, "zero": false}}}}
  ]
 }
]
}
